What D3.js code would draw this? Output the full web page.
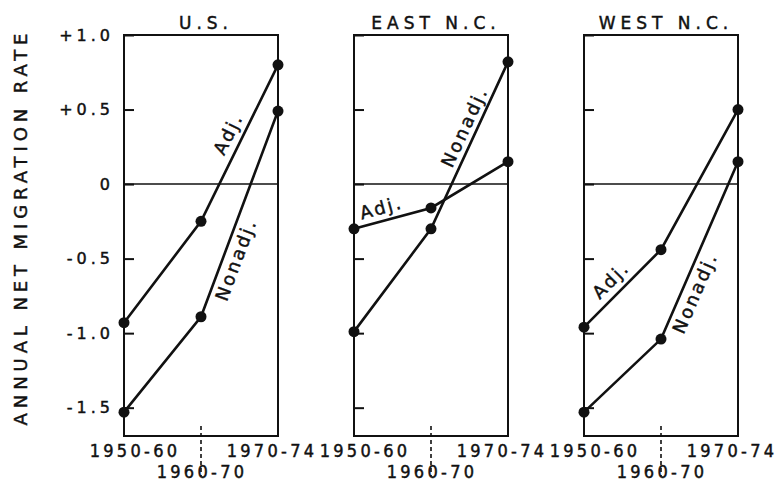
<!DOCTYPE html>
<html>
<head>
<meta charset="utf-8">
<script src="https://cdn.jsdelivr.net/npm/d3@7"></script>
<style>
  body { margin: 0; background: #fff; }
  svg { display: block; }
  text { font-family: "DejaVu Sans", sans-serif; fill: #111; stroke: #111; stroke-width: 0.45px; }
  .tick line { stroke: #111; stroke-width: 2; }
</style>
</head>
<body>
<div id="chart"></div>
<script>
var periods = ["1950-60", "1960-70", "1970-74"];
var regions = ["U.S.", "EAST N.C.", "WEST N.C."];
var adjValues = [
  [-0.93, -0.25, 0.80],
  [-0.30, -0.16, 0.15],
  [-0.96, -0.44, 0.50]
];
var nonadjValues = [
  [-1.53, -0.89, 0.49],
  [-0.99, -0.30, 0.82],
  [-1.53, -1.04, 0.15]
];
var yTicks = [1.0, 0.5, 0, -0.5, -1.0, -1.5];
var yTickLabels = ["+1.0", "+0.5", "0", "-0.5", "-1.0", "-1.5"];
var seriesNames = ["Adj.", "Nonadj."];

// label placement along lines: [panel, series, segment, t, offset]
var lineLabels = [
  [0, 0, 1, 0.52, 13],
  [0, 1, 1, 0.30, -14],
  [1, 1, 1, 0.58, 11],
  [1, 0, 0, 0.40, 12],
  [2, 0, 0, 0.48, 13],
  [2, 1, 1, 0.29, -14]
];

var width = 779, height = 482;
var plotTop = 35, plotBottom = 436;
var panelLeft = 124, panelWidth = 154, panelStep = 230;

var svg = d3.select("#chart").append("svg")
  .attr("width", width)
  .attr("height", height);

var y = d3.scaleLinear()
  .domain([-1.69, 1.0])
  .range([plotBottom, plotTop]);

// y axis title
svg.append("text")
  .attr("transform", "translate(27,227) rotate(-90)")
  .attr("text-anchor", "middle")
  .style("font-size", "18px")
  .style("letter-spacing", "4.9px")
  .text("ANNUAL NET MIGRATION RATE");

regions.forEach(function(region, p) {
  var left = panelLeft + p * panelStep;
  var x = d3.scalePoint()
    .domain(periods)
    .range([left, left + panelWidth]);

  var g = svg.append("g");

  // title
  g.append("text")
    .attr("x", left + panelWidth / 2 + 5)
    .attr("y", 29)
    .attr("text-anchor", "middle")
    .style("font-size", "17px")
    .style("letter-spacing", "5px")
    .text(region);

  // zero line
  g.append("line")
    .attr("x1", left).attr("x2", left + panelWidth)
    .attr("y1", y(0)).attr("y2", y(0))
    .style("stroke", "#111")
    .style("stroke-width", 1.6);

  // y axis with inward ticks
  var yAxis = d3.axisLeft(y)
    .tickValues(yTicks)
    .tickSizeInner(-10)
    .tickSizeOuter(0)
    .tickPadding(10)
    .tickFormat(function(d, i) { return p === 0 ? yTickLabels[i] : ""; });

  var ax = g.append("g")
    .attr("transform", "translate(" + left + ",0)")
    .call(yAxis);
  ax.select(".domain").remove();
  ax.selectAll("text")
    .style("font-size", "16px")
    .style("letter-spacing", "4px")
    .style("font-family", "'DejaVu Sans', sans-serif")
    .attr("fill", "#111");

  // frame
  g.append("rect")
    .attr("x", left).attr("y", plotTop)
    .attr("width", panelWidth).attr("height", plotBottom - plotTop)
    .style("fill", "none")
    .style("stroke", "#111")
    .style("stroke-width", 2);

  // dashed tick for middle period
  g.append("line")
    .attr("x1", x(periods[1])).attr("x2", x(periods[1]))
    .attr("y1", plotBottom - 10).attr("y2", plotBottom + 40)
    .style("stroke", "#111")
    .style("stroke-width", 1.6)
    .style("stroke-dasharray", "4,3");

  // period labels
  var periodStyle = function(t) {
    t.attr("text-anchor", "middle")
      .style("font-family", "'DejaVu Sans Condensed', 'DejaVu Sans', sans-serif")
      .style("font-size", "18px")
      .style("letter-spacing", "3.3px");
  };
  g.append("text")
    .attr("x", x(periods[0]) + 11)
    .attr("y", plotBottom + 21)
    .call(periodStyle)
    .text(periods[0]);
  g.append("text")
    .attr("x", x(periods[2]) - 6)
    .attr("y", plotBottom + 21)
    .call(periodStyle)
    .text(periods[2]);
  g.append("text")
    .attr("x", x(periods[1]) + 1)
    .attr("y", plotBottom + 42)
    .call(periodStyle)
    .text(periods[1]);

  var line = d3.line()
    .x(function(d, i) { return x(periods[i]); })
    .y(function(d) { return y(d); });

  [adjValues[p], nonadjValues[p]].forEach(function(vals) {
    g.append("path")
      .datum(vals)
      .attr("d", line)
      .style("fill", "none")
      .style("stroke", "#111")
      .style("stroke-width", 2.6);

    g.selectAll(null)
      .data(vals)
      .enter().append("circle")
      .attr("cx", function(d, i) { return x(periods[i]); })
      .attr("cy", function(d) { return y(d); })
      .attr("r", 5.5)
      .style("fill", "#111");
  });

  // labels along the lines
  lineLabels.filter(function(l) { return l[0] === p; }).forEach(function(l) {
    var vals = l[1] === 0 ? adjValues[p] : nonadjValues[p];
    var s = l[2];
    var x0 = x(periods[s]), y0 = y(vals[s]);
    var x1 = x(periods[s + 1]), y1 = y(vals[s + 1]);
    var dx = x1 - x0, dy = y1 - y0;
    var len = Math.sqrt(dx * dx + dy * dy);
    var px = x0 + dx * l[3] + (dy / len) * l[4];
    var py = y0 + dy * l[3] + (-dx / len) * l[4];
    var ang = Math.atan2(dy, dx) * 180 / Math.PI;
    g.append("text")
      .attr("transform", "translate(" + px + "," + py + ") rotate(" + ang + ")")
      .attr("text-anchor", "middle")
      .attr("dominant-baseline", "middle")
      .style("font-size", "18px")
      .style("letter-spacing", "2.5px")
      .text(seriesNames[l[1]]);
  });
});
</script>
</body>
</html>
